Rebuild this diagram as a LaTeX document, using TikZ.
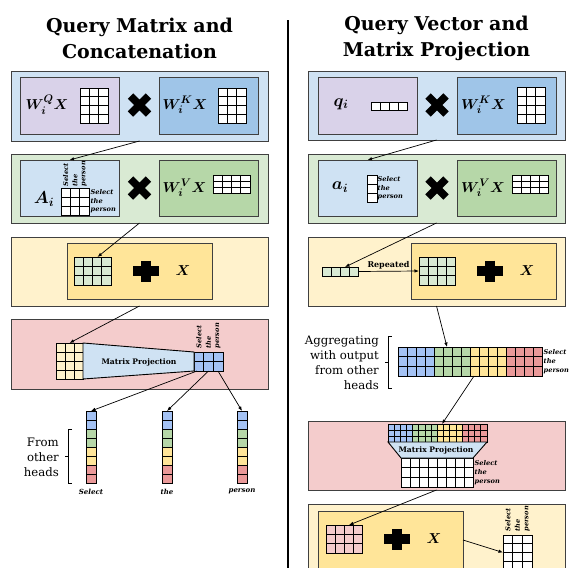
\documentclass[tikz,border=0pt]{standalone}
\usepackage{fontspec}
\usepackage{amsmath}
\setmainfont{DejaVu Serif}
\usetikzlibrary{arrows.meta}

\definecolor{boxblue}{HTML}{CFE2F3}
\definecolor{boxpurple}{HTML}{D9D2E9}
\definecolor{boxdblue}{HTML}{9FC5E8}
\definecolor{boxgreen}{HTML}{D9EAD3}
\definecolor{boxdgreen}{HTML}{B6D7A8}
\definecolor{boxyellow}{HTML}{FFF2CC}
\definecolor{boxdyellow}{HTML}{FFE599}
\definecolor{boxred}{HTML}{F4CCCC}
\definecolor{hdblue}{HTML}{A4C2F4}
\definecolor{hdgreen}{HTML}{B6D7A8}
\definecolor{hdyellow}{HTML}{FFE599}
\definecolor{hdred}{HTML}{EA9999}

\tikzset{
  panel/.style={draw=black!75,line width=0.8pt,inner sep=0pt,outer sep=0pt},
  outerpanel/.style={panel,minimum width=257pt,minimum height=69pt},
  innerpanel/.style={panel,minimum width=99pt,minimum height=57pt},
  widepanel/.style={panel,minimum width=145pt,minimum height=56pt},
  cellline/.style={draw=black,line width=0.9pt},
  gridbox/.style={inner sep=0pt,outer sep=0pt,anchor=north west},
  link/.style={-{Latex[length=4.5pt,width=3.5pt]},line width=0.7pt},
  tinylbl/.style={font=\fontsize{6.6}{7}\selectfont\bfseries\itshape,inner sep=0.5pt},
  mathlbl/.style={font=\fontsize{15}{18}\selectfont\boldmath,inner sep=0pt},
  vecmath/.style={font=\fontsize{18}{20}\selectfont\boldmath,inner sep=0pt},
  projlbl/.style={font=\fontsize{7.6}{9}\selectfont\bfseries,inner sep=0pt},
  headlbl/.style={font=\fontsize{11.7}{15}\selectfont,align=right,anchor=east,inner sep=0pt},
  titlelbl/.style={font=\fontsize{19}{26}\selectfont\bfseries,align=center},
  timesmark/.pic={\draw[line width=7.5pt] (-9,-9) -- (9,9) (-9,9) -- (9,-9);},
  plusmark/.pic={\draw[line width=10pt] (-13,0) -- (13,0) (0,-10.5) -- (0,10.5);},
}

\newcommand{\cellgrid}[8]{%
  \foreach \cc in {1,...,#4}{
    \foreach \rr in {1,...,#5}{
      \draw[cellline,fill=#8] ({#2+(\cc-1)*#6},{#3+(\rr-1)*#7}) rectangle ++(#6,#7);
    }
  }
  \node[gridbox,minimum width={#4*#6pt},minimum height={#5*#7pt}] (#1) at (#2,#3) {};
}

\begin{document}
\begin{tikzpicture}[x=1pt,y=-1pt]
  \useasboundingbox (0,0) rectangle (571,568);
  \clip (0,0) rectangle (571,568);

  \node[titlelbl] (ttlL) at (139.5,38) {Query Matrix and\\Concatenation};
  \node[titlelbl] (ttlR) at (436.5,38) {Query Vector and\\Matrix Projection};
  \draw[line width=2pt] (288,20) -- (288,570);

  \node[outerpanel,fill=boxblue,minimum height=70pt] (Lb1) at (139.5,106) {};
  \node[outerpanel,fill=boxgreen] (Lb2) at (139.5,188.5) {};
  \node[outerpanel,fill=boxyellow] (Lb3) at (139.5,271.5) {};
  \node[outerpanel,fill=boxred,minimum height=70pt] (Lb4) at (139.5,354) {};
  \node[outerpanel,fill=boxblue] (Rb1) at (436.5,105.5) {};
  \node[outerpanel,fill=boxgreen] (Rb2) at (436.5,188.5) {};
  \node[outerpanel,fill=boxyellow] (Rb3) at (436.5,271.5) {};
  \node[outerpanel,fill=boxred] (Rb4) at (436.5,455.5) {};
  \node[outerpanel,fill=boxyellow,minimum height=72pt] (Rb5) at (436.5,540) {};

  \node[innerpanel,fill=boxpurple] (Lq) at (69.5,105.5) {};
  \node[innerpanel,fill=boxdblue] (Lk) at (208.5,105.5) {};
  \node[innerpanel,fill=boxblue,minimum height=56pt] (La) at (69.5,188) {};
  \node[innerpanel,fill=boxdgreen,minimum height=56pt] (Lv) at (208.5,188) {};
  \node[widepanel,fill=boxdyellow] (Lx) at (139.5,271) {};
  \node[innerpanel,fill=boxpurple] (Rq) at (367.5,105.5) {};
  \node[innerpanel,fill=boxdblue] (Rk) at (506.5,105.5) {};
  \node[innerpanel,fill=boxblue,minimum height=56pt] (Ra) at (367.5,188) {};
  \node[innerpanel,fill=boxdgreen,minimum height=56pt] (Rv) at (506.5,188) {};
  \node[widepanel,fill=boxdyellow] (Rx) at (483.5,271) {};
  \node[widepanel,fill=boxdyellow,minimum height=58pt] (Ry) at (390.5,540) {};

  \node[mathlbl] (lWq) at (47,105) {$W_i^{Q}X$};
  \cellgrid{qgrid}{80}{88}{3}{4}{9.33}{8.75}{white}
  \pic (tm1) at (139.5,105) {timesmark};
  \node[mathlbl] (lWk) at (185,105) {$W_i^{K}X$};
  \cellgrid{kgrid}{218}{88}{3}{4}{9.33}{8.75}{white}

  \node[vecmath] (lA) at (44,199) {$A_i$};
  \cellgrid{agrid}{61}{188}{3}{3}{9.33}{9}{white}
  \foreach \w [count=\k from 0] in {Select,the,person}{
    \node[tinylbl,rotate=90,anchor=west] (aT\k) at ({61+(\k+0.5)*9.33},187) {\w};
    \node[tinylbl,anchor=west] (aS\k) at (90,{192.5+\k*9}) {\w};
  }
  \pic (tm2) at (139.5,188) {timesmark};
  \node[mathlbl] (lWv) at (184.5,188) {$W_i^{V}X$};
  \cellgrid{vgrid}{213}{175}{4}{3}{9.25}{6.1}{white}

  \cellgrid{ggrid}{74}{257}{4}{3}{9.25}{9.33}{boxgreen}
  \pic (pm1) at (146,271) {plusmark};
  \node[mathlbl] (lX1) at (183,271) {$X$};

  \cellgrid{ygrid}{56}{343}{3}{4}{9}{9}{boxyellow}
  \cellgrid{bgrid}{194}{352}{3}{2}{9.67}{9.5}{hdblue}
  \draw[cellline,fill=boxblue] (ygrid.north east) -- (bgrid.north west) -- (bgrid.south west) -- (ygrid.south east) -- cycle;
  \node[projlbl] (mpL) at (139,362) {Matrix Projection};
  \foreach \w [count=\k from 0] in {Select,the,person}{
    \node[tinylbl,rotate=90,anchor=west] (bT\k) at ({194+(\k+0.5)*9.67},349) {\w};
  }

  \foreach \x/\w in {91/Select,167/the,242/person}{
    \foreach \col [count=\k from 0] in {hdblue,hdgreen,hdyellow,hdred}{
      \cellgrid{\w\k}{\x-5}{411+\k*18}{1}{2}{10}{9}{\col}
    }
    \node[tinylbl,font=\fontsize{7}{8}\selectfont\bfseries\itshape] (w\w) at (\x,491.5) {\w};
  }
  \node[headlbl] (hdL) at (59,457) {From\\other\\heads};
  \draw[line width=0.8pt] (72,429) -- (68,429) -- (68,483) -- (72,483) (68,456) -- (64.5,456);

  \draw[link] (Lb1.south) -- (La.north);
  \draw[link] (Lb2.south) -- ([xshift=5pt]ggrid.north);
  \draw[link] (Lb3.south) -- (ygrid.north);
  \draw[link] ([xshift=3pt]bgrid.south west) -- (Select0.north);
  \draw[link] (bgrid.south) -- (the0.north);
  \draw[link] ([xshift=-5pt]bgrid.south east) -- (person0.north);

  \node[vecmath] (lq) at (341,104) {$q_i$};
  \cellgrid{qvec}{371}{102}{4}{1}{9}{8}{white}
  \pic (tm3) at (437,105) {timesmark};
  \node[mathlbl] (lWk2) at (483.5,105) {$W_i^{K}X$};
  \cellgrid{kgrid2}{517}{87}{3}{4}{9.33}{9}{white}

  \node[vecmath] (la) at (340,187) {$a_i$};
  \cellgrid{avec}{367}{175}{1}{3}{10}{9}{white}
  \foreach \w [count=\k from 0] in {Select,the,person}{
    \node[tinylbl,anchor=west] (vS\k) at (377,{179.5+\k*9}) {\w};
  }
  \pic (tm4) at (437,188) {timesmark};
  \node[mathlbl] (lWv2) at (483,188) {$W_i^{V}X$};
  \cellgrid{vgrid2}{512}{175}{4}{3}{9}{6.1}{white}

  \cellgrid{rvec}{322}{267}{4}{1}{9}{9}{boxgreen}
  \cellgrid{rgrid}{419}{257}{4}{3}{9}{9.33}{boxgreen}
  \draw[link] (rvec.east) -- node[above=2pt,font=\fontsize{8}{9}\selectfont\bfseries,inner sep=0pt] (rep) {Repeated} (rgrid.west);
  \pic (pm2) at (490,271) {plusmark};
  \node[mathlbl] (lX2) at (527,271) {$X$};

  \foreach \col [count=\k from 0] in {hdblue,hdgreen,hdyellow,hdred}{
    \cellgrid{big\k}{398+\k*36}{347}{4}{3}{9}{9.67}{\col}
  }
  \foreach \w [count=\k from 0] in {Select,the,person}{
    \node[tinylbl,anchor=west] (gS\k) at (543,{351.8+\k*9.67}) {\w};
  }
  \node[headlbl] (hdR) at (379,362.5) {Aggregating\\with output\\from other\\heads};
  \draw[line width=0.8pt] (391.5,336) -- (388,336) -- (388,388) -- (391.5,388) (388,362) -- (384.5,362);

  \foreach \col [count=\k from 0] in {hdblue,hdgreen,hdyellow,hdred}{
    \cellgrid{sm\k}{388+\k*24.75}{424}{4}{3}{6.19}{6}{\col}
  }
  \cellgrid{projout}{401}{458}{8}{3}{9}{9.67}{white}
  \draw[cellline,fill=boxblue] (sm0.south west) -- (sm3.south east) -- (projout.north east) -- (projout.north west) -- cycle;
  \node[projlbl] (mpR) at (436,450) {Matrix Projection};
  \foreach \w [count=\k from 0] in {Select,the,person}{
    \node[tinylbl,anchor=west] (pS\k) at (474,{462.8+\k*9.67}) {\w};
  }

  \cellgrid{pgrid}{326}{525}{4}{3}{9}{9.33}{boxred}
  \pic (pm3) at (397,539) {plusmark};
  \node[mathlbl] (lX3) at (434,539) {$X$};
  \cellgrid{wgrid}{503}{535}{3}{4}{9.67}{8.75}{white}
  \foreach \w [count=\k from 0] in {Select,the,person}{
    \node[tinylbl,rotate=90,anchor=west] (wT\k) at ({503+(\k+0.5)*9.67},532) {\w};
  }

  \draw[link] (Rb1.south) -- (Ra.north);
  \draw[link] (Rb2.south) -- ([xshift=5pt]rvec.north);
  \draw[link] (Rb3.south) -- ([xshift=13pt]big1.north west);
  \draw[link] ([xshift=4pt]big2.south west) -- ([xshift=4.5pt]sm2.north west);
  \draw[link] (Rb4.south) -- ([xshift=5pt]pgrid.north);
  \draw[link] (Ry.east) -- (wgrid.west);
\end{tikzpicture}
\end{document}
